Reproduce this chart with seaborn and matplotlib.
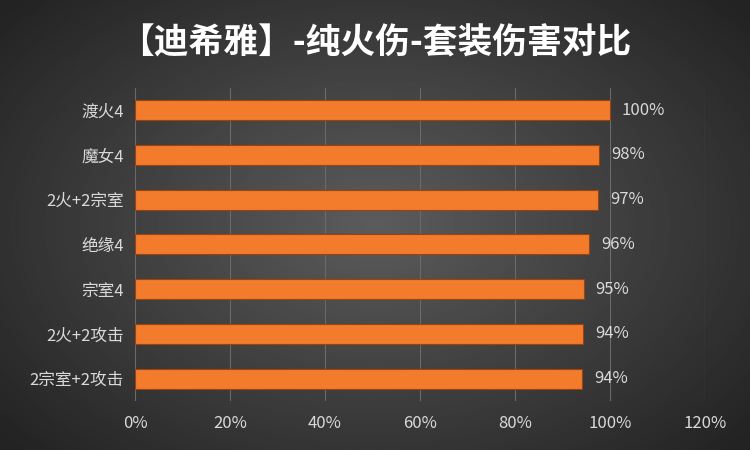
import numpy as np
import pandas as pd
import matplotlib
matplotlib.use("Agg")
import matplotlib.pyplot as plt
import seaborn as sns

categories = ["渡火4", "魔女4", "2火+2宗室", "绝缘4", "宗室4", "2火+2攻击", "2宗室+2攻击"]
values = [100.0, 97.7, 97.5, 95.6, 94.5, 94.3, 94.1]
labels = ["100%", "98%", "97%", "96%", "95%", "94%", "94%"]
xticks = [0, 20, 40, 60, 80, 100, 120]

sns.set_theme(style="dark")
plt.rcParams['font.family'] = ['Noto Sans CJK SC', 'DejaVu Sans']

fig = plt.figure(figsize=(7.5, 4.5), dpi=100)
bg = fig.add_axes([0, 0, 1, 1])
yy, xx = np.mgrid[-1:1:300j, -1:1:500j]
r = np.sqrt(xx**2 + (yy * 0.9)**2)
bg.imshow(0.36 - 0.22 * np.clip(r / 1.3, 0, 1), cmap="gray", vmin=0, vmax=1,
          extent=[0, 1, 0, 1], aspect="auto")
bg.axis("off")

ax = fig.add_axes([0.18, 0.109, 0.76, 0.696])
ax.patch.set_alpha(0)
df = pd.DataFrame({"cat": categories, "val": values})
sns.barplot(data=df, x="val", y="cat", orient="h", color="#F27B2C", saturation=1,
            width=0.45, edgecolor="#9A4210", linewidth=0.8, ax=ax)
for i, (v, l) in enumerate(zip(values, labels)):
    ax.text(v + 2.5, i, l, va="center", ha="left", color="#D9D9D9", fontsize=12)
ax.set_xlim(0, 120)
ax.set_xticks(xticks)
ax.set_xticklabels([f"{t}%" for t in xticks], color="#D9D9D9", fontsize=12)
ax.tick_params(axis="y", colors="#D9D9D9", labelsize=12, length=0, pad=8)
ax.tick_params(axis="x", length=0, pad=10)
ax.set_xlabel("")
ax.set_ylabel("")
ax.grid(axis="x", color="#6A6A6A", linewidth=0.8)
ax.grid(axis="y", visible=False)
for s in ax.spines.values():
    s.set_visible(False)
fig.text(0.5, 0.905, "【迪希雅】-纯火伤-套装伤害对比", ha="center", va="center",
         color="white", fontsize=25, fontweight="bold")
fig.savefig("out.png", dpi=100)
